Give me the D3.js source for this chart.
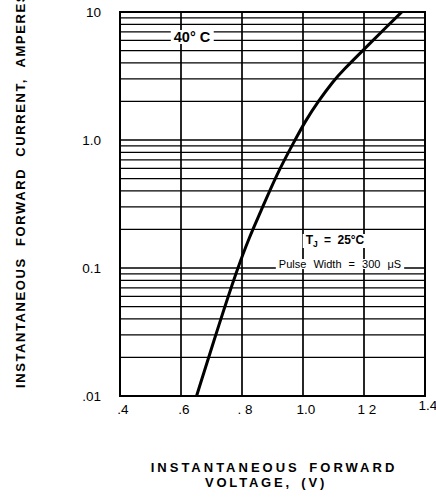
<!DOCTYPE html>
<html><head><meta charset="utf-8">
<script src="https://cdn.jsdelivr.net/npm/d3@7/dist/d3.min.js"></script>
<style>
html,body{margin:0;padding:0;background:#fff;}
svg{display:block;}
text{font-family:"Liberation Sans",Arial,Helvetica,sans-serif;fill:#000;}
</style></head>
<body>
<svg id="chart" width="436" height="498"></svg>
<script>
// Forward voltage (V) vs. instantaneous forward current (A)
const voltage = [0.651, 0.728, 0.783, 0.826, 0.859, 0.913, 0.974, 1.007, 1.053, 1.099, 1.132, 1.203, 1.280, 1.324];
const current = [0.01, 0.0385, 0.096, 0.179, 0.267, 0.537, 1.0, 1.40, 2.05, 2.88, 3.52, 5.2, 7.9, 10];
const xTicks = [0.4, 0.6, 0.8, 1.0, 1.2, 1.4];
const xTickLabels = [".4", ".6", ". 8", "1.0", "1 2", "1.4"];
const yTicks = [10, 1, 0.1, 0.01];
const yTickLabels = ["10", "1.0", "0.1", ".01"];

const svg = d3.select("#chart");
const x = d3.scaleLinear().domain([0.4, 1.4]).range([120, 425]);
const y = d3.scaleLog().domain([0.01, 10]).range([396, 12]);

// minor log grid lines
const minor = [];
[0.01, 0.1, 1].forEach(d => { for (let k = 2; k <= 9; k++) minor.push(d * k); });
const g = svg.append("g");
g.selectAll("line.hminor").data(minor).enter().append("line")
  .attr("x1", x(0.4)).attr("x2", x(1.4))
  .attr("y1", d => y(d)).attr("y2", d => y(d))
  .attr("stroke", "#000").attr("stroke-width", 1.2);
g.selectAll("line.hmajor").data(yTicks).enter().append("line")
  .attr("x1", x(0.4)).attr("x2", x(1.4))
  .attr("y1", d => y(d)).attr("y2", d => y(d))
  .attr("stroke", "#000").attr("stroke-width", 1.6);
g.selectAll("line.v").data(xTicks).enter().append("line")
  .attr("x1", d => x(d)).attr("x2", d => x(d))
  .attr("y1", y(10)).attr("y2", y(0.01))
  .attr("stroke", "#000").attr("stroke-width", 1.7);
svg.append("rect").attr("x", x(0.4)).attr("y", y(10))
  .attr("width", x(1.4) - x(0.4)).attr("height", y(0.01) - y(10))
  .attr("fill", "none").attr("stroke", "#000").attr("stroke-width", 2);

// curve
const pts = voltage.map((v, i) => [v, current[i]]);
svg.append("path").datum(pts)
  .attr("d", d3.line().x(d => x(d[0])).y(d => y(d[1])).curve(d3.curveBasis))
  .attr("fill", "none").attr("stroke", "#000").attr("stroke-width", 3);

// tick labels
svg.selectAll("text.yt").data(yTicks).enter().append("text")
  .attr("x", 101).attr("y", d => y(d) + 5)
  .attr("text-anchor", "end").attr("font-size", 13.5)
  .text((d, i) => yTickLabels[i]);
svg.selectAll("text.xt").data(xTicks).enter().append("text")
  .attr("x", d => x(d) + 3).attr("y", (d, i) => i === 5 ? 410 : 414)
  .attr("text-anchor", "middle").attr("font-size", 13.5)
  .text((d, i) => xTickLabels[i]);

// axis titles
svg.append("text")
  .attr("transform", "translate(25,388) rotate(-90)")
  .attr("font-size", 13).attr("font-weight", "bold").attr("letter-spacing", 1.6).attr("word-spacing", 6)
  .text("INSTANTANEOUS FORWARD CURRENT, AMPERES");
svg.append("text").attr("x", 274).attr("y", 472)
  .attr("text-anchor", "middle").attr("font-size", 13).attr("font-weight", "bold").attr("letter-spacing", 3).attr("word-spacing", 3)
  .text("INSTANTANEOUS FORWARD");
svg.append("text").attr("x", 266).attr("y", 487)
  .attr("text-anchor", "middle").attr("font-size", 13).attr("font-weight", "bold").attr("letter-spacing", 2.8).attr("word-spacing", 3)
  .text("VOLTAGE, (V)");

// annotations with white backing
function label(tx, ty, size, weight, build) {
  const t = svg.append("text").attr("x", tx).attr("y", ty)
    .attr("text-anchor", "middle").attr("font-size", size).attr("font-weight", weight);
  build(t);
  const b = t.node().getBBox();
  svg.insert("rect", () => t.node())
    .attr("x", b.x - 3).attr("y", b.y + 1).attr("width", b.width + 6).attr("height", b.height - 2)
    .attr("fill", "#fff");
}
label(192, 42, 14.5, "bold", t => { t.text("40° C"); });
label(335, 244, 12, "bold", t => {
  t.attr("word-spacing", 3);
  t.append("tspan").text("T");
  t.append("tspan").attr("font-size", 8.5).attr("dy", 3).text("J");
  t.append("tspan").attr("dy", -3).text(" = 25°C");
});
label(340, 268, 11, "normal", t => { t.attr("word-spacing", 4).text("Pulse Width = 300 μS"); });
</script>
</body></html>
